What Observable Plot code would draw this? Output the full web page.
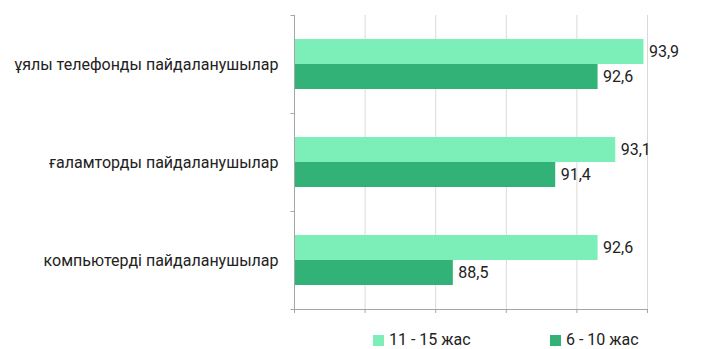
<!DOCTYPE html>
<html><head><meta charset="utf-8">
<script src="https://cdn.jsdelivr.net/npm/d3@7"></script>
<script src="https://cdn.jsdelivr.net/npm/@observablehq/plot@0.6"></script>
<style>
body{margin:0;background:#fff;font-family:Roboto,sans-serif;}
#legend{position:relative;height:18px;margin-top:6px;font-size:16px;color:#222;}
.item{position:absolute;top:0;height:18px;line-height:18px;display:flex;align-items:center;white-space:nowrap;}
.sw{width:11px;height:11px;margin-right:5px;display:inline-block;}
</style></head>
<body><div id="chart"></div><div id="legend"></div>
<script>
const categories = ["ұялы телефонды пайдаланушылар", "ғаламторды пайдаланушылар", "компьютерді пайдаланушылар"];
const series = ["11 - 15 жас", "6 - 10 жас"];
const values1115 = [93.9, 93.1, 92.6];
const values610 = [92.6, 91.4, 88.5];
const xTicks = [84, 86, 88, 90, 92, 94];
const colors = ["#7ceeb8", "#33b277"];

const data = categories.flatMap((c, i) => [
  {category: c, series: series[0], value: values1115[i]},
  {category: c, series: series[1], value: values610[i]}
]);

const W = 709, H = 325, mL = 294, mR = 62;
const chart = Plot.plot({
  width: W, height: H,
  marginLeft: mL, marginRight: mR, marginTop: 14, marginBottom: 16,
  style: {fontFamily: "Roboto", fontSize: "16px", color: "#222", background: "#fff"},
  x: {domain: [xTicks[0], xTicks[xTicks.length - 1]], axis: null},
  y: {domain: series, paddingInner: 0, paddingOuter: 0.93, axis: null},
  fy: {domain: categories, padding: 0, axis: null},
  color: {domain: series, range: colors},
  marks: [
    Plot.ruleX(xTicks.slice(1), {stroke: "#d9d9d9", strokeWidth: 1}),
    Plot.barX(data, {fy: "category", y: "series", x1: xTicks[0], x2: "value", fill: "series"}),
    Plot.ruleX([xTicks[0]], {stroke: "#a6a6a6"}),
    Plot.frame({anchor: "top", insetLeft: -4, insetRight: W - mL - mR, stroke: "#a6a6a6", strokeLinecap: "butt"}),
    Plot.frame({anchor: "bottom", insetLeft: -4, stroke: "#a6a6a6", strokeLinecap: "butt", facetAnchor: "bottom"}),
    Plot.axisX({ticks: xTicks, tickFormat: () => "", tickSize: 4, stroke: "#a6a6a6", label: null}),
    Plot.text(data, {fy: "category", y: "series", x: "value", text: d => d.value.toFixed(1).replace(".", ","), textAnchor: "start", dx: 5, fill: "#222", fontSize: 16}),
    Plot.axisFy({anchor: "left", tickSize: 0, tickPadding: 16, label: null, fontSize: 16, fill: "#222"})
  ]
});
document.getElementById("chart").appendChild(chart);

const legend = document.getElementById("legend");
const lefts = [373, 550];
series.forEach((s, i) => {
  const it = document.createElement("div");
  it.className = "item";
  it.style.left = lefts[i] + "px";
  it.innerHTML = `<span class="sw" style="background:${colors[i]}"></span><span>${s}</span>`;
  legend.appendChild(it);
});
</script></body></html>
